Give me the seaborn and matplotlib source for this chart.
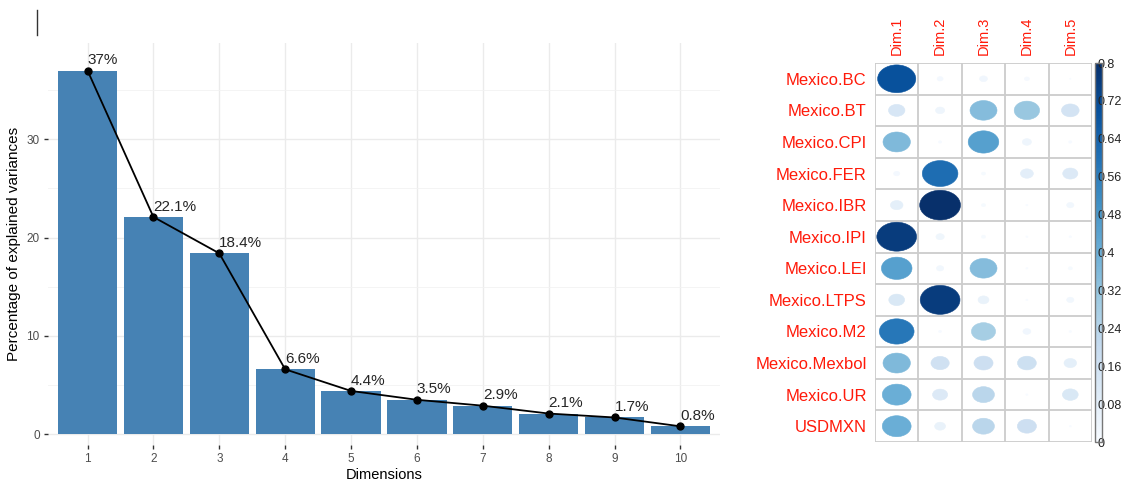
import numpy as np
import pandas as pd
import matplotlib
matplotlib.use("Agg")
import matplotlib.pyplot as plt
import seaborn as sns
from matplotlib.patches import Ellipse
from matplotlib.lines import Line2D
from matplotlib.colors import Normalize
from matplotlib.colorbar import ColorbarBase

# ---- scree data: percentage of variance explained by each dimension ----
dimensions = ["1", "2", "3", "4", "5", "6", "7", "8", "9", "10"]
explained = [37.0, 22.1, 18.4, 6.6, 4.4, 3.5, 2.9, 2.1, 1.7, 0.8]
explained_labels = ["37%", "22.1%", "18.4%", "6.6%", "4.4%", "3.5%", "2.9%", "2.1%", "1.7%", "0.8%"]

# ---- cos2 of the variables on the first five dimensions ----
variables = ["Mexico.BC", "Mexico.BT", "Mexico.CPI", "Mexico.FER", "Mexico.IBR",
             "Mexico.IPI", "Mexico.LEI", "Mexico.LTPS", "Mexico.M2", "Mexico.Mexbol",
             "Mexico.UR", "USDMXN"]
dim_names = ["Dim.1", "Dim.2", "Dim.3", "Dim.4", "Dim.5"]
dim1 = [0.70, 0.13, 0.36, 0.018, 0.076, 0.76, 0.45, 0.12, 0.58, 0.36, 0.40, 0.40]
dim2 = [0.017, 0.04, 0.005, 0.61, 0.80, 0.033, 0.025, 0.76, 0.004, 0.16, 0.11, 0.057]
dim3 = [0.03, 0.35, 0.45, 0.008, 0.008, 0.008, 0.35, 0.057, 0.28, 0.175, 0.23, 0.23]
dim4 = [0.012, 0.31, 0.04, 0.08, 0.002, 0.002, 0.002, 0.002, 0.03, 0.17, 0.002, 0.175]
dim5 = [0.001, 0.15, 0.005, 0.11, 0.025, 0.003, 0.008, 0.025, 0.003, 0.076, 0.12, 0.002]
cbar_ticks = [0, 0.08, 0.16, 0.24, 0.32, 0.4, 0.48, 0.56, 0.64, 0.72, 0.8]

plt.rcParams["font.family"] = ["Liberation Sans", "DejaVu Sans"]

W, H = 1124, 494
fig = plt.figure(figsize=(W / 100, H / 100), dpi=100)
fig.patch.set_facecolor("white")


def fig_rect(x0, y0, x1, y1):
    """Pixel box (top-left origin) to figure fraction rect."""
    return [x0 / W, 1 - y1 / H, (x1 - x0) / W, (y1 - y0) / H]


# ================= scree plot =================
ax = fig.add_axes(fig_rect(48, 43, 720, 445))
scree = pd.DataFrame({"dim": dimensions, "pct": explained})
sns.barplot(data=scree, x="dim", y="pct", color="#4682B4", saturation=1,
            width=0.9, edgecolor="#4682B4", linewidth=0, ax=ax, zorder=2)
sns.pointplot(data=scree, x="dim", y="pct", color="black", markers="o",
              markersize=5, linewidth=1.3, ax=ax, zorder=4)
for i, (v, lab) in enumerate(zip(explained, explained_labels)):
    ax.text(i, v + 0.35, lab, ha="left", va="bottom", fontsize=11,
            color="#262626", zorder=5)

ax.set_xlim(-0.6, 9.6)
ax.set_ylim(-1.1, 39.8)
ax.set_yticks([0, 10, 20, 30])
ax.set_yticks([5, 15, 25, 35], minor=True)
ax.set_facecolor("white")
ax.grid(True, which="major", axis="both", color="#ebebeb", linewidth=1.0, zorder=0)
ax.grid(True, which="minor", axis="y", color="#f2f2f2", linewidth=0.6, zorder=0)
ax.set_axisbelow(True)
for s in ax.spines.values():
    s.set_visible(False)
ax.tick_params(axis="both", which="major", length=3, width=1, color="#333333",
               labelcolor="#4d4d4d", labelsize=8.5, pad=3)
ax.tick_params(axis="y", which="minor", length=0)
ax.set_xlabel("Dimensions", fontsize=10.5, color="black", labelpad=2)
ax.set_ylabel("Percentage of explained variances", fontsize=11, color="black", labelpad=4)

# ================= cos2 circle matrix =================
cax_m = fig.add_axes(fig_rect(875, 63, 1092, 442))
nrow, ncol = len(variables), len(dim_names)
cos2 = pd.DataFrame({"Dim.1": dim1, "Dim.2": dim2, "Dim.3": dim3,
                     "Dim.4": dim4, "Dim.5": dim5}, index=variables)
cmap = sns.color_palette("Blues", as_cmap=True)
norm = Normalize(vmin=0, vmax=0.8)
for r, var in enumerate(variables):
    for c, dn in enumerate(dim_names):
        v = cos2.loc[var, dn]
        d = 0.94 * np.sqrt(v / 0.8)
        cx, cy = c + 0.5, nrow - r - 0.5
        cax_m.add_patch(Ellipse((cx, cy), d, d, facecolor=cmap(norm(v)),
                                edgecolor=cmap(norm(v)), linewidth=0.4, zorder=3))
for k in range(ncol + 1):
    cax_m.axvline(k, color="#cccccc", linewidth=1.3, zorder=1)
for k in range(nrow + 1):
    cax_m.axhline(k, color="#cccccc", linewidth=1.3, zorder=1)
cax_m.set_xlim(0, ncol)
cax_m.set_ylim(0, nrow)
for s in cax_m.spines.values():
    s.set_visible(False)
cax_m.set_yticks([nrow - r - 0.5 for r in range(nrow)])
cax_m.set_yticklabels(variables, fontsize=12, color="#ff1a0a")
cax_m.set_xticks([c + 0.5 for c in range(ncol)])
cax_m.set_xticklabels(dim_names, fontsize=10.5, color="#ff1a0a", rotation=90)
cax_m.xaxis.tick_top()
cax_m.tick_params(axis="both", length=0, pad=6)

# colour legend
cb_ax = fig.add_axes(fig_rect(1095, 63, 1102, 442))
cb = ColorbarBase(cb_ax, cmap=cmap, norm=norm, ticks=cbar_ticks)
cb.outline.set_edgecolor("#777777")
cb.outline.set_linewidth(1.0)
cb.ax.set_yticklabels(["0", "0.08", "0.16", "0.24", "0.32", "0.4", "0.48",
                       "0.56", "0.64", "0.72", "0.8"])
cb.ax.tick_params(length=0, pad=-3, labelsize=9, labelcolor="#222222")

# text cursor mark at top left
fig.add_artist(Line2D([37 / W, 37 / W], [1 - 10 / H, 1 - 35 / H],
                      color="#333333", linewidth=1.0))

fig.savefig("out.png", dpi=100, facecolor="white")
